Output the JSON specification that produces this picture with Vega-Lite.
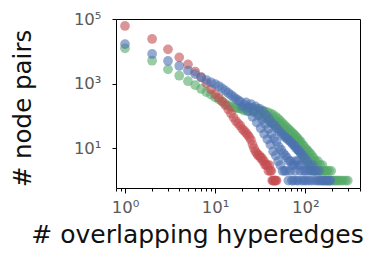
{
  "$schema": "https://vega.github.io/schema/vega-lite/v6.json",
  "autosize": {"type": "none"},
  "padding": {"left": 116, "top": 19, "right": 15, "bottom": 70},
  "width": 244,
  "height": 169,
  "background": "white",
  "config": {
    "view": {"stroke": "#000000", "strokeWidth": 1},
    "font": "DejaVu Sans"
  },
  "data": {"values": [
    {"s":"g","x":1,"y":12600},{"s":"g","x":2,"y":5200},{"s":"g","x":3,"y":2800},{"s":"g","x":4,"y":1780},{"s":"g","x":5,"y":1200},{"s":"g","x":6,"y":910},{"s":"g","x":7,"y":690},{"s":"g","x":8,"y":550},{"s":"g","x":9,"y":460},{"s":"g","x":10,"y":380},
    {"s":"g","x":11,"y":330},{"s":"g","x":12,"y":280},{"s":"g","x":13,"y":240},{"s":"g","x":14,"y":210},{"s":"g","x":15,"y":195},{"s":"g","x":16,"y":185},{"s":"g","x":17,"y":180},{"s":"g","x":18,"y":175},{"s":"g","x":19,"y":170},{"s":"g","x":20,"y":168},
    {"s":"g","x":21,"y":148},{"s":"g","x":22,"y":166},{"s":"g","x":23,"y":186},{"s":"g","x":24,"y":141},{"s":"g","x":25,"y":158},{"s":"g","x":26,"y":178},{"s":"g","x":27,"y":132},{"s":"g","x":28,"y":148},{"s":"g","x":29,"y":166},{"s":"g","x":30,"y":120},
    {"s":"g","x":31,"y":135},{"s":"g","x":32,"y":151},{"s":"g","x":33,"y":102},{"s":"g","x":34,"y":120},{"s":"g","x":35,"y":141},{"s":"g","x":36,"y":87},{"s":"g","x":37,"y":107},{"s":"g","x":38,"y":132},{"s":"g","x":39,"y":74},{"s":"g","x":40,"y":95},
    {"s":"g","x":41,"y":120},{"s":"g","x":42,"y":63},{"s":"g","x":43,"y":83},{"s":"g","x":44,"y":110},{"s":"g","x":45,"y":55},{"s":"g","x":46,"y":72},{"s":"g","x":47,"y":95},{"s":"g","x":48,"y":48},{"s":"g","x":49,"y":63},{"s":"g","x":50,"y":83},
    {"s":"g","x":51,"y":41},{"s":"g","x":52,"y":54},{"s":"g","x":53,"y":71},{"s":"g","x":54,"y":35},{"s":"g","x":55,"y":46},{"s":"g","x":56,"y":60},{"s":"g","x":57,"y":30},{"s":"g","x":58,"y":40},{"s":"g","x":59,"y":52},{"s":"g","x":60,"y":26},
    {"s":"g","x":61,"y":34},{"s":"g","x":62,"y":45},{"s":"g","x":63,"y":23},{"s":"g","x":64,"y":30},{"s":"g","x":65,"y":40},{"s":"g","x":66,"y":20},{"s":"g","x":67,"y":26},{"s":"g","x":68,"y":35},{"s":"g","x":69,"y":18},{"s":"g","x":70,"y":23},
    {"s":"g","x":71,"y":31},{"s":"g","x":72,"y":16},{"s":"g","x":73,"y":21},{"s":"g","x":74,"y":28},{"s":"g","x":75,"y":14},{"s":"g","x":76,"y":19},{"s":"g","x":77,"y":25},{"s":"g","x":78,"y":13},{"s":"g","x":79,"y":17},{"s":"g","x":80,"y":22},
    {"s":"g","x":81,"y":11},{"s":"g","x":82,"y":15},{"s":"g","x":83,"y":20},{"s":"g","x":84,"y":9},{"s":"g","x":85,"y":13},{"s":"g","x":86,"y":17},{"s":"g","x":87,"y":8},{"s":"g","x":88,"y":11},{"s":"g","x":89,"y":16},{"s":"g","x":90,"y":7},
    {"s":"g","x":91,"y":10},{"s":"g","x":92,"y":13},{"s":"g","x":94,"y":6},{"s":"g","x":95,"y":8},{"s":"g","x":96,"y":12},{"s":"g","x":98,"y":5},{"s":"g","x":99,"y":7},{"s":"g","x":100,"y":10},{"s":"g","x":102,"y":4},{"s":"g","x":103,"y":6},
    {"s":"g","x":104,"y":9},{"s":"g","x":106,"y":4},{"s":"g","x":107,"y":5},{"s":"g","x":108,"y":8},{"s":"g","x":110,"y":3},{"s":"g","x":111,"y":5},{"s":"g","x":113,"y":7},{"s":"g","x":115,"y":3},{"s":"g","x":116,"y":4},{"s":"g","x":118,"y":6},
    {"s":"g","x":120,"y":2},{"s":"g","x":122,"y":4},{"s":"g","x":124,"y":5},{"s":"g","x":126,"y":2},{"s":"g","x":128,"y":3},{"s":"g","x":130,"y":4},{"s":"g","x":133,"y":2},{"s":"g","x":135,"y":3},{"s":"g","x":138,"y":4},{"s":"g","x":141,"y":1},
    {"s":"g","x":143,"y":2},{"s":"g","x":146,"y":3},{"s":"g","x":149,"y":2},{"s":"g","x":152,"y":2},{"s":"g","x":155,"y":3},{"s":"g","x":158,"y":1},{"s":"g","x":162,"y":2},{"s":"g","x":166,"y":2},{"s":"g","x":170,"y":1},{"s":"g","x":174,"y":2},
    {"s":"g","x":178,"y":1},{"s":"g","x":183,"y":2},{"s":"g","x":188,"y":1},{"s":"g","x":194,"y":2},{"s":"g","x":200,"y":1},{"s":"g","x":208,"y":1},{"s":"g","x":216,"y":1},{"s":"g","x":226,"y":1},{"s":"g","x":236,"y":1},{"s":"g","x":248,"y":1},
    {"s":"g","x":262,"y":1},{"s":"g","x":280,"y":1},{"s":"g","x":296,"y":1},
    {"s":"r","x":1,"y":62000},{"s":"r","x":2,"y":24500},{"s":"r","x":3,"y":11700},{"s":"r","x":4,"y":6600},{"s":"r","x":5,"y":4000},{"s":"r","x":6,"y":2400},{"s":"r","x":7,"y":1600},{"s":"r","x":8,"y":1050},{"s":"r","x":9,"y":680},{"s":"r","x":10,"y":480},
    {"s":"r","x":11,"y":370},{"s":"r","x":12,"y":280},{"s":"r","x":13,"y":215},{"s":"r","x":14,"y":160},{"s":"r","x":15,"y":120},{"s":"r","x":16,"y":90},{"s":"r","x":17,"y":70},{"s":"r","x":18,"y":58},{"s":"r","x":19,"y":50},{"s":"r","x":20,"y":40},
    {"s":"r","x":21,"y":35},{"s":"r","x":22,"y":30},{"s":"r","x":23,"y":26},{"s":"r","x":24,"y":22},{"s":"r","x":25,"y":18},{"s":"r","x":26,"y":13},{"s":"r","x":27,"y":10},{"s":"r","x":28,"y":8},{"s":"r","x":29,"y":7},{"s":"r","x":30,"y":6},
    {"s":"r","x":31,"y":6},{"s":"r","x":32,"y":5},{"s":"r","x":33,"y":5},{"s":"r","x":34,"y":4},{"s":"r","x":35,"y":4},{"s":"r","x":36,"y":3},{"s":"r","x":37,"y":3},{"s":"r","x":38,"y":3},{"s":"r","x":39,"y":2},{"s":"r","x":40,"y":3},
    {"s":"r","x":41,"y":2},{"s":"r","x":42,"y":2},{"s":"r","x":43,"y":1},{"s":"r","x":44,"y":1},{"s":"r","x":45,"y":1},{"s":"r","x":46,"y":1},{"s":"r","x":47,"y":1},{"s":"r","x":48,"y":1},
    {"s":"b","x":1,"y":17000},{"s":"b","x":2,"y":8400},{"s":"b","x":3,"y":5100},{"s":"b","x":4,"y":3560},{"s":"b","x":5,"y":2560},{"s":"b","x":6,"y":2000},{"s":"b","x":7,"y":1590},{"s":"b","x":8,"y":1310},{"s":"b","x":9,"y":1110},{"s":"b","x":10,"y":980},
    {"s":"b","x":11,"y":850},{"s":"b","x":12,"y":720},{"s":"b","x":13,"y":610},{"s":"b","x":14,"y":520},{"s":"b","x":15,"y":450},{"s":"b","x":16,"y":390},{"s":"b","x":17,"y":340},{"s":"b","x":18,"y":310},{"s":"b","x":19,"y":280},{"s":"b","x":20,"y":200},
    {"s":"b","x":21,"y":229},{"s":"b","x":22,"y":263},{"s":"b","x":23,"y":141},{"s":"b","x":24,"y":186},{"s":"b","x":25,"y":234},{"s":"b","x":26,"y":95},{"s":"b","x":27,"y":141},{"s":"b","x":28,"y":200},{"s":"b","x":29,"y":63},{"s":"b","x":30,"y":105},
    {"s":"b","x":31,"y":170},{"s":"b","x":32,"y":42},{"s":"b","x":33,"y":79},{"s":"b","x":34,"y":141},{"s":"b","x":35,"y":28},{"s":"b","x":36,"y":56},{"s":"b","x":37,"y":105},{"s":"b","x":38,"y":19},{"s":"b","x":39,"y":40},{"s":"b","x":40,"y":79},
    {"s":"b","x":41,"y":13},{"s":"b","x":42,"y":28},{"s":"b","x":43,"y":60},{"s":"b","x":44,"y":8},{"s":"b","x":45,"y":20},{"s":"b","x":46,"y":50},{"s":"b","x":47,"y":6},{"s":"b","x":48,"y":16},{"s":"b","x":49,"y":40},{"s":"b","x":50,"y":4},
    {"s":"b","x":51,"y":11},{"s":"b","x":52,"y":33},{"s":"b","x":53,"y":3},{"s":"b","x":54,"y":9},{"s":"b","x":55,"y":28},{"s":"b","x":56,"y":2},{"s":"b","x":57,"y":7},{"s":"b","x":58,"y":24},{"s":"b","x":59,"y":2},{"s":"b","x":60,"y":6},
    {"s":"b","x":61,"y":21},{"s":"b","x":62,"y":2},{"s":"b","x":63,"y":5},{"s":"b","x":64,"y":19},{"s":"b","x":65,"y":1},{"s":"b","x":66,"y":4},{"s":"b","x":67,"y":17},{"s":"b","x":68,"y":2},{"s":"b","x":69,"y":4},{"s":"b","x":70,"y":15},
    {"s":"b","x":71,"y":1},{"s":"b","x":72,"y":3},{"s":"b","x":73,"y":13},{"s":"b","x":74,"y":1},{"s":"b","x":75,"y":3},{"s":"b","x":76,"y":12},{"s":"b","x":77,"y":2},{"s":"b","x":78,"y":4},{"s":"b","x":79,"y":10},{"s":"b","x":80,"y":1},
    {"s":"b","x":82,"y":4},{"s":"b","x":83,"y":9},{"s":"b","x":84,"y":1},{"s":"b","x":85,"y":3},{"s":"b","x":86,"y":8},{"s":"b","x":88,"y":2},{"s":"b","x":89,"y":7},{"s":"b","x":91,"y":3},{"s":"b","x":92,"y":1},{"s":"b","x":94,"y":6},
    {"s":"b","x":96,"y":2},{"s":"b","x":97,"y":1},{"s":"b","x":99,"y":5},{"s":"b","x":101,"y":2},{"s":"b","x":103,"y":1},{"s":"b","x":105,"y":4},{"s":"b","x":108,"y":2},{"s":"b","x":110,"y":1},{"s":"b","x":112,"y":3},{"s":"b","x":115,"y":2},
    {"s":"b","x":118,"y":1},{"s":"b","x":121,"y":3},{"s":"b","x":125,"y":2},{"s":"b","x":128,"y":1},{"s":"b","x":132,"y":2},{"s":"b","x":137,"y":1},{"s":"b","x":142,"y":2},{"s":"b","x":148,"y":1},{"s":"b","x":155,"y":1},{"s":"b","x":163,"y":1},
    {"s":"b","x":172,"y":1},{"s":"b","x":182,"y":1},{"s":"b","x":190,"y":1}
  ]},
  "mark": {"type": "point", "filled": true, "size": 95, "opacity": 0.6, "strokeWidth": 0},
  "encoding": {
    "x": {
      "field": "x", "type": "quantitative",
      "scale": {"type": "log", "domain": [0.795, 405], "nice": false},
      "axis": {
        "title": "# overlapping hyperedges",
        "values": [0.8, 0.9, 1, 2, 3, 4, 5, 6, 7, 8, 9, 10, 20, 30, 40, 50, 60, 70, 80, 90, 100, 200, 300, 400],
        "labelExpr": "datum.value == 1 ? '10⁰' : datum.value == 10 ? '10¹' : datum.value == 100 ? '10²' : ''",
        "labelOverlap": false, "labelFlush": false,
        "grid": false, "domain": false,
        "tickColor": "#000000", "tickWidth": 1,
        "tickSize": {"condition": {"test": "datum.value == 1 || datum.value == 10 || datum.value == 100", "value": 5}, "value": 3},
        "labelFontSize": 16.5, "labelColor": "#5a5a5a", "labelPadding": 6, "labelFont": "DejaVu Sans",
        "titleFontSize": 25, "titleFont": "DejaVu Sans", "titleFontWeight": "normal", "titleColor": "#111111",
        "titleX": 81, "titleY": 54, "titleBaseline": "alphabetic", "titleAlign": "center", "titleAnchor": null
      }
    },
    "y": {
      "field": "y", "type": "quantitative",
      "scale": {"type": "log", "domain": [0.587, 102000], "nice": false},
      "axis": {
        "title": "# node pairs",
        "values": [10, 1000, 100000],
        "labelExpr": "datum.value == 10 ? '10¹' : datum.value == 1000 ? '10³' : '10⁵'",
        "labelOverlap": false, "labelFlush": false,
        "grid": false, "domain": false,
        "tickColor": "#000000", "tickWidth": 1, "tickSize": 4,
        "labelFontSize": 16.5, "labelColor": "#5a5a5a", "labelPadding": 11, "labelFont": "DejaVu Sans",
        "titleFontSize": 24.5, "titleFont": "DejaVu Sans", "titleFontWeight": "normal", "titleColor": "#111111",
        "titleX": -86, "titleY": 89, "titleBaseline": "alphabetic", "titleAlign": "center", "titleAngle": -90, "titleAnchor": null
      }
    },
    "color": {
      "field": "s", "type": "nominal",
      "scale": {"domain": ["g", "r", "b"], "range": ["#55A868", "#C44E52", "#4C72B0"]},
      "legend": null
    }
  }
}
